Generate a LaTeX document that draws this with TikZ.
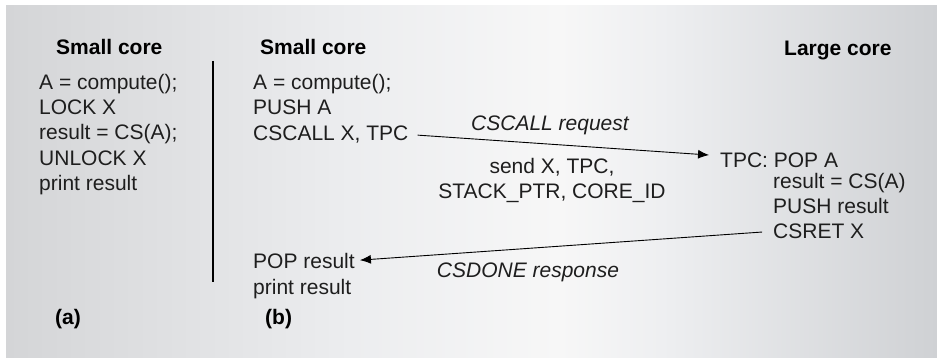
\documentclass[tikz,border=0pt]{standalone}
\usepackage{fontspec}
\setmainfont{Liberation Sans}
\usetikzlibrary{arrows.meta}
\definecolor{bgL}{RGB}{212,213,215}
\definecolor{bgA}{RGB}{236,237,239}
\definecolor{bgM}{RGB}{247,247,247}
\definecolor{bgB}{RGB}{238,239,241}
\definecolor{bgR}{RGB}{207,209,212}
\definecolor{ink}{RGB}{30,30,30}
\pgfdeclarehorizontalshading{panelbg}{100bp}{color(0bp)=(bgL); color(25bp)=(bgL);
  color(43.5bp)=(bgA); color(54.7bp)=(bgM); color(60.2bp)=(bgB);
  color(75bp)=(bgR); color(100bp)=(bgR)}
\tikzset{
  code/.style={anchor=base west, inner sep=0pt, align=left, text=ink,
    font=\fontsize{21}{25.2}\selectfont},
  head/.style={anchor=base west, inner sep=0pt,
    font=\fontsize{21}{25}\selectfont\bfseries},
  note/.style={anchor=base, inner sep=0pt, align=center, text=ink,
    font=\fontsize{21}{25.7}\selectfont},
  msg/.style={note, font=\fontsize{21}{25.7}\selectfont\itshape},
  wire/.style={line width=0.9pt, ->},
}
\begin{document}
\begin{tikzpicture}[x=1pt,y=-1pt,>={Latex[length=11pt,width=9pt]}]
  \useasboundingbox (0,0) rectangle (937,358);
  \shade[shading=panelbg] (6,6) rectangle (937,358);
  % (a) lock based
  \node[head] (heada) at (56,55) {Small core};
  % multi-line nodes sit on their last baseline
  \node[code] (codea) at (39,190.3) {A = compute();\\LOCK X\\result = CS(A);\\UNLOCK X\\print result};
  \node[head] (laba) at (55,324) {(a)};
  \draw[line width=1.1pt] (213,61) -- (213,282);
  % (b) small core side
  \node[head] (headb) at (260,55) {Small core};
  \node[code] (codeb) at (253,114.7) {A = compute();\\PUSH A};
  \node[code] (cscall) at (253,140.5) {CSCALL X, TPC};
  \node[code] (popres) at (253,268) {POP result};
  \node[code] (prnres) at (253,294) {print result};
  \node[head] (labb) at (265,324) {(b)};
  % (b) large core side
  \node[head] (headl) at (784,55.5) {Large core};
  \node[code] (tpc) at (720,168) {TPC: POP A};
  \node[code] (body) at (773,214) {result = CS(A)\\PUSH result};
  \node[code] (csret) at (773,238.5) {CSRET X};
  % messages
  \draw[wire, shorten <=9pt, shorten >=11pt] (cscall.east) -- ([yshift=5pt]tpc.west);
  \draw[wire, shorten <=11pt, shorten >=5pt] (csret.west) -- (popres.east);
  \node[msg] (req) at (550,130.5) {CSCALL request};
  \node[note] (args) at (552,199) {send X, TPC,\\STACK\_PTR, CORE\_ID};
  \node[msg] (resp) at (528,277.5) {CSDONE response};
\end{tikzpicture}
\end{document}
